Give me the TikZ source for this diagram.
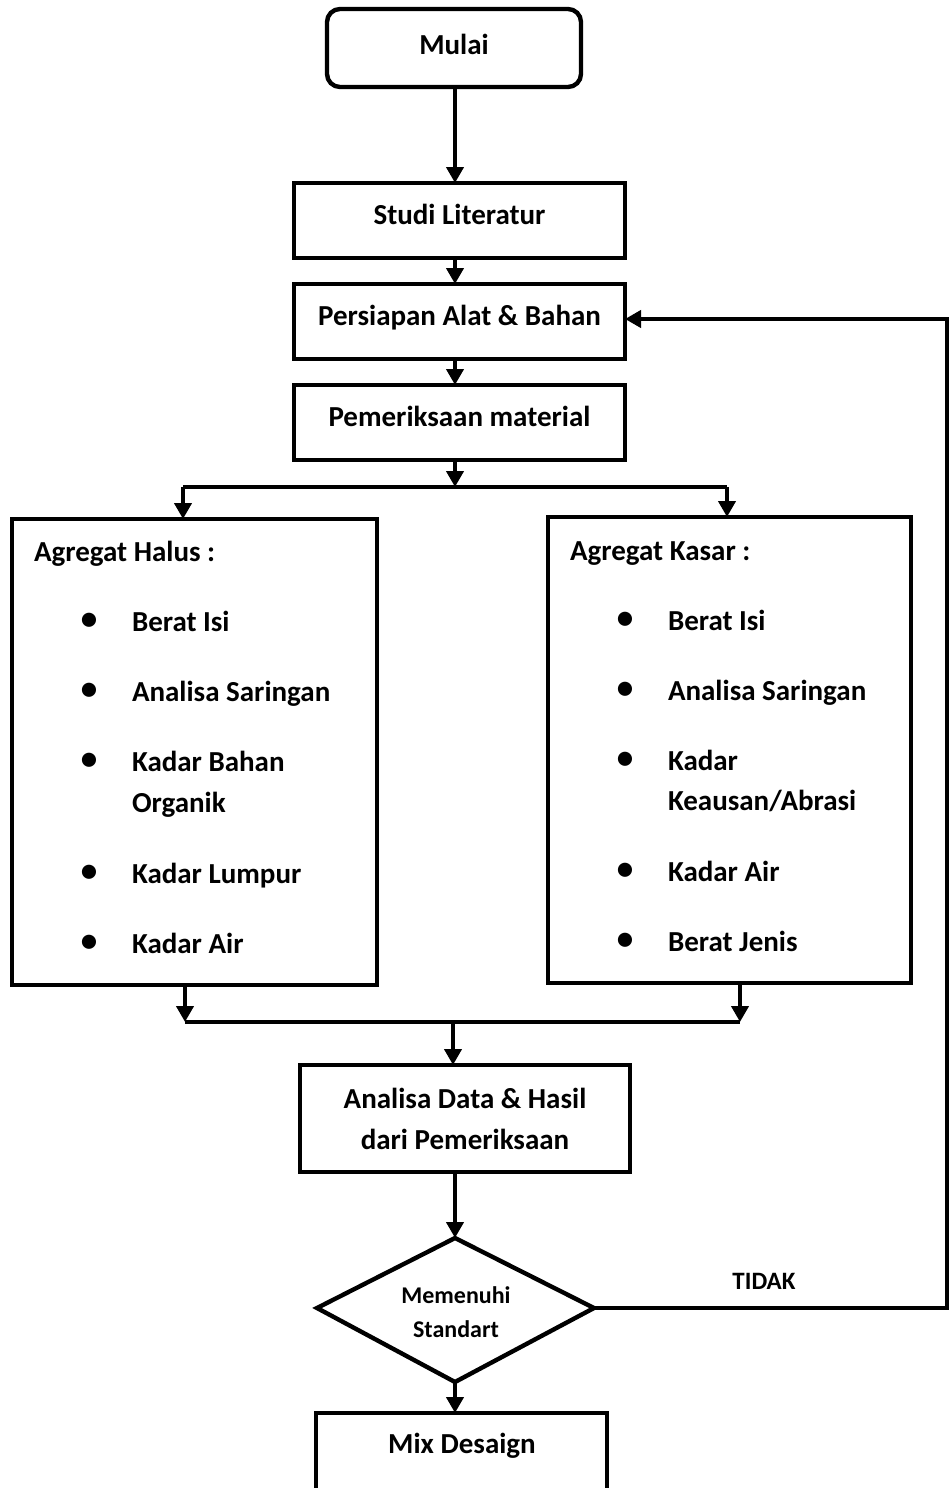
\documentclass[tikz,border=0pt]{standalone}
\usepackage{fontspec}
\setmainfont{Carlito}
\usetikzlibrary{arrows.meta}
\begin{document}
\begin{tikzpicture}[x=1pt,y=-1pt,
  line width=4.4pt,
  every node/.style={font=\bfseries\fontsize{29}{34}\selectfont, inner sep=0pt, outer sep=0pt},
  box/.style={draw, rectangle},
  boxt/.style={box, text height=20pt, text depth=12pt},
  arr/.style={-{Triangle[length=16pt,width=17pt]}},
  txt/.style={anchor=base west},
  bul/.style={anchor=center, font=\fontsize{40}{40}\selectfont}
]
\useasboundingbox (0,0) rectangle (949,1488);
\clip (0,0) rectangle (949,1488);
% nodes
\node[box, text height=20pt, text depth=6pt, rounded corners=13pt, minimum width=254pt, minimum height=78pt] (mulai) at (454,48) {Mulai};
\node[boxt, minimum width=331pt, minimum height=75pt] (studi) at (459.5,220.5) {Studi Literatur};
\node[boxt, minimum width=331pt, minimum height=75pt] (persiapan) at (459.5,321.5) {Persiapan Alat \& Bahan};
\node[boxt, minimum width=331pt, minimum height=75pt] (periksa) at (459.5,422.5) {Pemeriksaan material};
\node[box, minimum width=365pt, minimum height=466pt] (halus) at (194.5,752) {};
\node[box, minimum width=363pt, minimum height=466pt] (kasar) at (729.5,750) {};
\node[box, minimum width=330pt, minimum height=107pt, align=center, font=\bfseries\fontsize{29}{41}\selectfont] (analisa) at (465,1118.5) {Analisa Data \& Hasil\\dari Pemeriksaan};
\path (455,1238) coordinate (dt) (594,1308) coordinate (dr) (455,1382) coordinate (db) (317,1308) coordinate (dl);
\draw (dt) -- (dr) -- (db) -- (dl) -- cycle;
\node[align=center, font=\bfseries\fontsize{24}{34}\selectfont] (cek) at (456,1312) {Memenuhi\\Standart};
\node[font=\bfseries\fontsize{25}{25}\selectfont] (tidak) at (764,1281) {TIDAK};
\node[box, minimum width=291pt, minimum height=120pt] (mix) at (461.5,1473) {};
\node (mixt) at (462,1446) {Mix Desaign};
% list texts halus
\node[txt] (hh) at (34,561) {Agregat Halus :};
\node[bul] (hb1) at (89,622) {•}; \node[txt] (h1) at (132,631) {Berat Isi};
\node[bul] (hb2) at (89,692) {•}; \node[txt] (h2) at (132,701) {Analisa Saringan};
\node[bul] (hb3) at (89,762) {•}; \node[txt] (h3) at (132,771) {Kadar Bahan};
\node[txt] (h3b) at (132,812) {Organik};
\node[bul] (hb4) at (89,874) {•}; \node[txt] (h4) at (132,883) {Kadar Lumpur};
\node[bul] (hb5) at (89,944) {•}; \node[txt] (h5) at (132,953) {Kadar Air};
% list texts kasar
\node[txt] (kh) at (570,560) {Agregat Kasar :};
\node[bul] (kb1) at (625,621) {•}; \node[txt] (k1) at (668,630) {Berat Isi};
\node[bul] (kb2) at (625,691) {•}; \node[txt] (k2) at (668,700) {Analisa Saringan};
\node[bul] (kb3) at (625,761) {•}; \node[txt] (k3) at (668,770) {Kadar};
\node[txt] (k3b) at (668,810) {Keausan/Abrasi};
\node[bul] (kb4) at (625,872) {•}; \node[txt] (k4) at (668,881) {Kadar Air};
\node[bul] (kb5) at (625,942) {•}; \node[txt] (k5) at (668,951) {Berat Jenis};
% coordinates for junctions
\coordinate (c) at (455,0);
\coordinate (j1) at (455,487);
\coordinate (j1l) at (183,487);
\coordinate (j1r) at (727,487);
\coordinate (j2l) at (185,1022);
\coordinate (j2r) at (740,1022);
\coordinate (j2) at (453,1022);
\coordinate (fb1) at (947,1308);
\coordinate (fb2) at (947,319);
% connectors
\draw[arr] (c |- mulai.south) -- (c |- studi.north);
\draw[arr] (c |- studi.south) -- (c |- persiapan.north);
\draw[arr] (c |- persiapan.south) -- (c |- periksa.north);
\draw[arr] (c |- periksa.south) -- (j1);
\draw (j1l) -- (j1r);
\draw[arr] (j1l) -- (j1l |- halus.north);
\draw[arr] (j1r) -- (j1r |- kasar.north);
\draw[arr] (j2l |- halus.south) -- (j2l);
\draw[arr] (j2r |- kasar.south) -- (j2r);
\draw (j2l) -- (j2r);
\draw[arr] (j2) -- (j2 |- analisa.north);
\draw[arr] (analisa.south -| dt) -- (dt);
\draw[arr] (db) -- (db |- mix.north);
\draw[arr] (dr) -- (fb1) -- (fb2) -- (persiapan.east |- fb2);
\end{tikzpicture}
\end{document}
